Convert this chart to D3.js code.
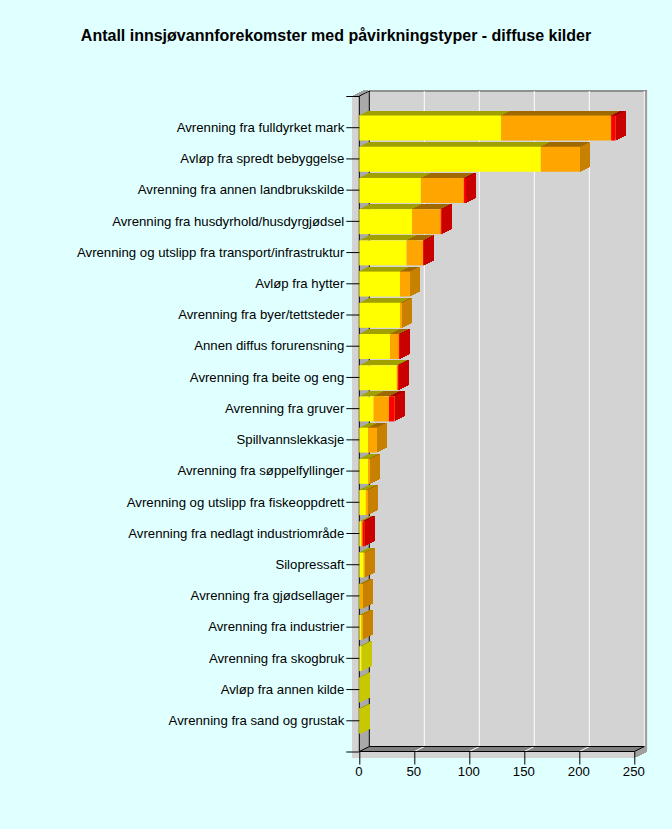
<!DOCTYPE html>
<html><head><meta charset="utf-8">
<script src="https://cdnjs.cloudflare.com/ajax/libs/d3/7.8.5/d3.min.js"></script>
<style>html,body{margin:0;padding:0;background:#e0ffff}svg{display:block}text{font-family:"Liberation Sans",Arial,sans-serif;fill:#000}</style>
</head><body><svg id="c" width="672" height="829"></svg>
<script>
const title="Antall innsjøvannforekomster med påvirkningstyper - diffuse kilder";
const categories=["Avrenning fra fulldyrket mark","Avløp fra spredt bebyggelse","Avrenning fra annen landbrukskilde","Avrenning fra husdyrhold/husdyrgjødsel","Avrenning og utslipp fra transport/infrastruktur","Avløp fra hytter","Avrenning fra byer/tettsteder","Annen diffus forurensning","Avrenning fra beite og eng","Avrenning fra gruver","Spillvannslekkasje","Avrenning fra søppelfyllinger","Avrenning og utslipp fra fiskeoppdrett","Avrenning fra nedlagt industriområde","Silopressaft","Avrenning fra gjødsellager","Avrenning fra industrier","Avrenning fra skogbruk","Avløp fra annen kilde","Avrenning fra sand og grustak"];
const yellowVals=[129,165,56,48,43,37,37,28,34,13,8,8,6,2,4,1,2,2,1,1];
const orangeVals=[100,36,39,26,15,9,2,8,1,14,8,2,2,1,1,2,1,0,0,0];
const redVals=[4,0,2,1,1,0,0,1,1,5,0,0,0,2,0,0,0,0,0,0];
const xTicks=[0,50,100,150,200,250];
const colors={yellow:["#ffff00","#c8c800","#a0a000"],orange:["#ffa500","#c88000","#a06800"],red:["#ff0000","#c80000","#a00000"]};
const svg=d3.select("#c");
const x=d3.scaleLinear().domain([0,250]).range([359.3,634.3]);
const y=d3.scalePoint().domain(["_t",...categories,"_b"]).range([96,751.5]);
const dx=10,dy=-5,bh=25;
const poly=(pts,fill,stroke)=>svg.append("polygon").attr("points",pts.map(p=>p.join(",")).join(" ")).attr("fill",fill).attr("stroke",stroke||"none").attr("shape-rendering","crispEdges");
const L=x(0),R=x(250),T=y("_t"),B=y("_b");
// outer frame
svg.append("rect").attr("x",352).attr("y",96).attr("width",283).attr("height",662).attr("fill","#d3d3d3");
svg.append("rect").attr("x",L+dx).attr("y",90).attr("width",R+3-L-dx+10).attr("height",660).attr("fill","#d3d3d3");
poly([[R+13,90],[R+13,752],[R,758],[R,B],[R+10,B+dy],[R+10,90]],"#a0a0a0");
poly([[L+10,90],[R+13,90],[R+13,92],[L+10,92]],"#909090");
poly([[352,96],[L,96],[L+10,90],[L+5,90]],"#a0a0a0");
poly([[L,T],[L+dx,T+dy],[L+dx,B+dy],[L,B]],"#a9a9a9");
poly([[L,B],[L+dx,B+dy],[R+dx,B+dy],[R,B]],"#808080");
// grid
xTicks.slice(0,-1).forEach(t=>{
  if(t>0) svg.append("line").attr("x1",x(t)).attr("x2",x(t)+dx).attr("y1",B).attr("y2",B+dy).attr("stroke","#fff");
  if(t>0) svg.append("line").attr("x1",x(t)+dx).attr("x2",x(t)+dx).attr("y1",T+dy).attr("y2",B+dy).attr("stroke","#fff");
});
svg.append("line").attr("x1",R+dx).attr("x2",R+dx).attr("y1",T+dy).attr("y2",B+dy).attr("stroke","#fff");
const blk=(a,b,c,d)=>svg.append("line").attr("x1",a).attr("y1",b).attr("x2",c).attr("y2",d).attr("stroke","#000");
blk(L+dx,T+dy,L+dx,B+dy);blk(L+dx,B+dy,R+dx,B+dy);blk(L,T,L+dx,T+dy);blk(L,B,L+dx,B+dy);blk(R,B,R+dx,B+dy);
blk(L,T,L,B);blk(L,B,R,B);
// bars (back to front per category, top to bottom)
categories.forEach((c,i)=>{
  const yc=y(c)+0.8,top=yc-bh/2,bot=yc+bh/2;
  let acc=0;
  [["yellow",yellowVals[i]],["orange",orangeVals[i]],["red",redVals[i]]].forEach(([k,v])=>{
    if(!v) return;
    const a=x(acc),b=x(acc+v);acc+=v;
    const col=colors[k];
    poly([[a,top],[a+dx,top+dy],[b+dx,top+dy],[b,top]],col[2]);
    svg.append("rect").attr("x",a).attr("y",top).attr("width",b-a).attr("height",bh).attr("fill",col[0]);
    poly([[b,top],[b+dx,top+dy],[b+dx,bot+dy],[b,bot]],col[1]);
  });
});
// y axis
const yAxis=d3.axisLeft(y).tickSize(13).tickPadding(2).tickFormat(d=>d.startsWith("_")?"":d);
svg.append("g").attr("transform",`translate(${L},0)`).call(yAxis).call(g=>{g.select(".domain").remove();g.selectAll("text").style("font-size","13.2px").style("font-family",'"Liberation Sans"')});
const xAxis=d3.axisBottom(x).tickValues(xTicks).tickSize(13).tickPadding(2).tickFormat(d3.format("d"));
svg.append("g").attr("transform",`translate(0,${B})`).call(xAxis).call(g=>{g.select(".domain").remove();g.selectAll("text").attr("dx",-1).style("font-size","13.2px").style("font-family",'"Liberation Sans"')});
svg.append("text").attr("x",336).attr("y",41).attr("text-anchor","middle").style("font-size","16px").style("font-weight","bold").text(title);
</script></body></html>
